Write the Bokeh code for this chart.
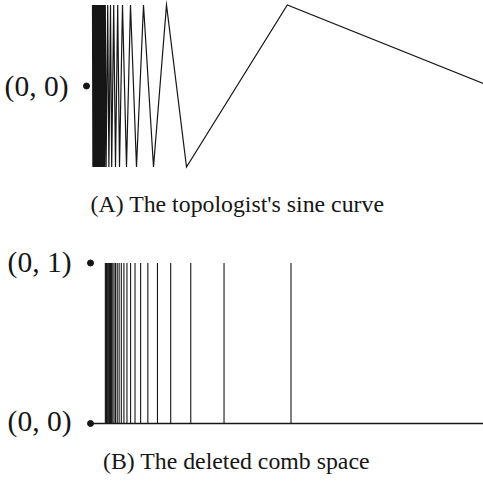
from bokeh.plotting import figure
from bokeh.layouts import column
from bokeh.models import Range1d
from bokeh.embed import file_html
from bokeh.resources import INLINE
from bokeh.core.properties import value

# ---- data: (A) topologist's sine curve, zigzag vertices ----
sine_x = [0.015, 0.016, 0.017, 0.018, 0.019, 0.020, 0.021, 0.022, 0.023, 0.024,
          0.025, 0.026, 0.027, 0.028, 0.029, 0.030, 0.031, 0.032, 0.033, 0.034,
          0.035, 0.0365, 0.038, 0.0395, 0.041, 0.0425, 0.044, 0.0455, 0.047, 0.049,
          0.053, 0.056, 0.060, 0.063, 0.068, 0.0725, 0.078, 0.0825, 0.090, 0.100,
          0.110, 0.125, 0.1425, 0.1675, 0.200, 0.250, 0.502, 0.9925]
sine_y = [1, -1, 1, -1, 1, -1, 1, -1, 1, -1,
          1, -1, 1, -1, 1, -1, 1, -1, 1, -1,
          1, -1, 1, -1, 1, -1, 1, -1, 1, -1,
          1, -1, 1, -1, 1, -1, 1, -1, 1, -1,
          1, -1, 1, -1, 1, -1, 1, 0.03]
sine_point = ([0.0], [0.0])
sine_point_label = "(0, 0)"
caption_a = "(A) The topologist's sine curve"

# ---- data: (B) deleted comb space ----
teeth_x = [0.5, 0.333, 0.25, 0.2, 0.167, 0.143, 0.125, 0.111, 0.1, 0.0909,
           0.0833, 0.0769, 0.0714, 0.0667, 0.0625, 0.0588, 0.0556, 0.0526, 0.05,
           0.0476, 0.0455, 0.0435, 0.0417, 0.04, 0.0385, 0.037]
base_x = [0.0, 1.0]
base_y = [0.0, 0.0]
comb_points_x = [0.0, 0.0]
comb_points_y = [0.0, 1.0]
comb_labels = ["(0, 0)", "(0, 1)"]
caption_b = "(B) The deleted comb space"

INK = "#161616"
SERIF = value("Liberation Serif")


def bare(fig):
    fig.axis.visible = False
    fig.grid.visible = False
    fig.outline_line_color = None
    fig.min_border = 0
    fig.min_border_left = 0
    fig.min_border_right = 0
    fig.min_border_top = 0
    fig.min_border_bottom = 0
    fig.background_fill_color = "white"
    fig.border_fill_color = "white"


W, H1, H2 = 483, 243, 243

# ---------- top panel ----------
top = figure(width=W, height=H1, output_backend="svg", toolbar_location=None,
             x_range=Range1d(-86 / 400, 397 / 400),
             y_range=Range1d(-(H1 - 85.5) / 81, 85.5 / 81))
bare(top)
top.line(sine_x, sine_y, line_color=INK, line_width=1.2, line_join="miter")
top.scatter(sine_point[0], sine_point[1], size=6, color=INK)
top.text(x=[(68 - 86) / 400], y=[-0.006], text=[sine_point_label], text_font=SERIF,
         text_font_size="29.5px", text_align="right", text_baseline="alphabetic",
         text_color=INK)
top.text(x=[(237 - 86) / 400], y=[-(203 - 85.5) / 81], text=[caption_a],
         text_font=SERIF, text_font_size="23.8px", text_align="center",
         text_baseline="middle", text_color=INK)

# ---------- bottom panel ----------
bot = figure(width=W, height=H2, output_backend="svg", toolbar_location=None,
             x_range=Range1d(-90 / 401, 393 / 401),
             y_range=Range1d(-(H2 - 180) / 160.5, 180 / 160.5))
bare(bot)
bot.segment(x0=teeth_x, y0=[0] * len(teeth_x), x1=teeth_x, y1=[1] * len(teeth_x),
            line_color=INK, line_width=1.1)
bot.line(base_x, base_y, line_color=INK, line_width=1.3)
bot.scatter(comb_points_x, comb_points_y, size=6, color=INK)
bot.text(x=[(71 - 90) / 401, (71 - 90) / 401], y=[0.0125, 1.009], text=comb_labels,
         text_font=SERIF, text_font_size="29.5px", text_align="right",
         text_baseline="alphabetic", text_color=INK)
bot.text(x=[(236 - 90) / 401], y=[-(217 - 180) / 160.5], text=[caption_b],
         text_font=SERIF, text_font_size="23.8px", text_align="center",
         text_baseline="middle", text_color=INK)

page = column(top, bot, spacing=0)

open("out.html", "w").write(file_html(page, INLINE))
